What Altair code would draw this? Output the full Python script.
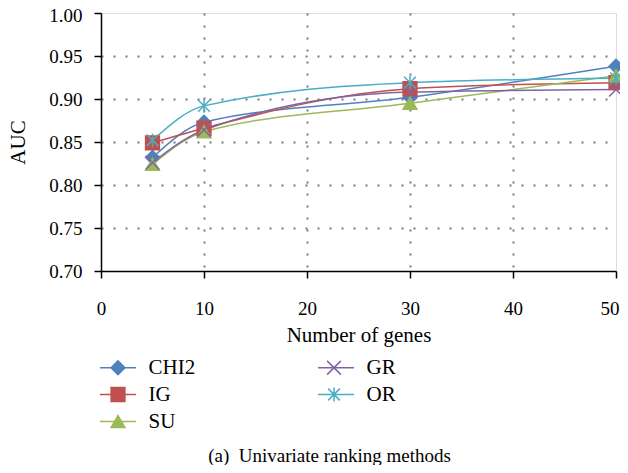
import altair as alt
import pandas as pd

FONT = "Liberation Serif"

genes = [5, 10, 30, 50]
methods = ["CHI2", "IG", "SU", "GR", "OR"]
auc_chi2 = [0.832, 0.873, 0.902, 0.938]
auc_ig = [0.849, 0.866, 0.912, 0.919]
auc_su = [0.824, 0.862, 0.895, 0.927]
auc_gr = [0.826, 0.864, 0.908, 0.911]
auc_or = [0.852, 0.892, 0.919, 0.924]

colors = ["#4F81BD", "#C0504D", "#9BBB59", "#8064A2", "#4BACC6"]
fills = ["#4F81BD", "#C0504D", "#9BBB59", "transparent", "transparent"]
shapes = [
    "diamond",
    "square",
    "triangle-up",
    "M-1,-1L1,1M-1,1L1,-1",
    "M0,-1L0,1M-0.85,-0.85L0.85,0.85M-0.85,0.85L0.85,-0.85",
]

x_ticks = [0, 10, 20, 30, 40, 50]
y_ticks = [0.70, 0.75, 0.80, 0.85, 0.90, 0.95, 1.00]

series = dict(zip(methods, [auc_chi2, auc_ig, auc_su, auc_gr, auc_or]))
rows = []
for i, m in enumerate(methods):
    for g, v in zip(genes, series[m]):
        # m2 carries the legend order as a prefix (hidden in the marker legend)
        rows.append({"genes": g, "auc": v, "method": m, "m2": f"{i}_{m}"})
df = pd.DataFrame(rows)

x_enc = alt.X(
    "genes:Q",
    scale=alt.Scale(domain=[0, 50], nice=False, zero=False),
    axis=alt.Axis(
        values=x_ticks, title="Number of genes", format="d",
        gridDash=[2, 10], gridColor="#7a7a7a", gridWidth=2,
        gridOpacity={"condition": {"test": "datum.value == 0 || datum.value == 50", "value": 0}, "value": 1},
        tickSize=7, tickColor="black", tickWidth=1.5,
        domainColor="black", domainWidth=1.5,
        labelFontSize=19, labelFont=FONT, labelColor="black", labelPadding=21,
        labelAlign={"condition": {"test": "datum.value == 50", "value": "right"}, "value": "center"},
        labelOffset={"condition": {"test": "datum.value == 50", "value": 3}, "value": 0},
        titleFontSize=21, titleFont=FONT, titleFontWeight="normal", titleColor="black", titlePadding=6,
    ),
)
y_enc = alt.Y(
    "auc:Q",
    scale=alt.Scale(domain=[0.70, 1.00], nice=False, zero=False),
    axis=alt.Axis(
        values=y_ticks, title="AUC", format=".2f",
        gridDash=[2, 10], gridColor="#7a7a7a", gridWidth=2,
        gridOpacity={"condition": {"test": "datum.value <= 0.7001 || datum.value >= 0.9999", "value": 0}, "value": 1},
        tickSize=7, tickColor="black", tickWidth=1.5,
        domainColor="black", domainWidth=1.5,
        labelFontSize=19, labelFont=FONT, labelColor="black", labelPadding=12,
        labelOffset={"condition": {"test": "datum.value >= 0.9999", "value": 2.5}, "value": 0},
        titleFontSize=21, titleFont=FONT, titleFontWeight="normal", titleColor="black", titlePadding=20,
    ),
)

common = dict(
    title=None, orient="none", legendX=-2, legendY=344, columns=2,
    columnPadding=119, rowPadding=5, symbolStrokeWidth=1.5,
    labelFontSize=21, labelFont=FONT, labelOffset=20, padding=0, symbolOffset=8.5,
)
legL = alt.Legend(
    symbolType="M-2.5,0L2.5,0", symbolSize=207, labelColor="black", zindex=1, **common
)
legM = alt.Legend(
    symbolSize=190, labelColor="transparent", labelExpr="substring(datum.label, 2)",
    zindex=2, **common
)

base = alt.Chart(df)
lines = base.mark_line(interpolate="monotone", strokeWidth=1.5).encode(
    x=x_enc, y=y_enc,
    color=alt.Color("method:N", scale=alt.Scale(domain=methods, range=colors), legend=legL),
)
points = base.mark_point(filled=False, size=190, strokeWidth=1.5, opacity=1).encode(
    x=x_enc, y=y_enc,
    stroke=alt.Stroke("m2:N", scale=alt.Scale(range=colors), legend=legM),
    fill=alt.Fill("m2:N", scale=alt.Scale(range=fills), legend=legM),
    shape=alt.Shape("m2:N", scale=alt.Scale(range=shapes), legend=legM),
)

chart = (
    alt.layer(lines, points)
    .properties(
        width=515, height=258,
        autosize=alt.AutoSizeParams(type="none"),
        padding={"left": 93, "top": 5, "right": 4, "bottom": 194},
        title=alt.TitleParams(
            text="(a)\u00a0 Univariate ranking methods", orient="bottom", anchor="middle",
            fontSize=19, fontWeight="normal", font=FONT, color="black", offset=15, dx=-29,
        ),
    )
    .configure_view(stroke="black", strokeWidth=1.5)
    .configure(font=FONT)
)

chart.save("out.html", embed_options={"renderer": "svg", "actions": False})
